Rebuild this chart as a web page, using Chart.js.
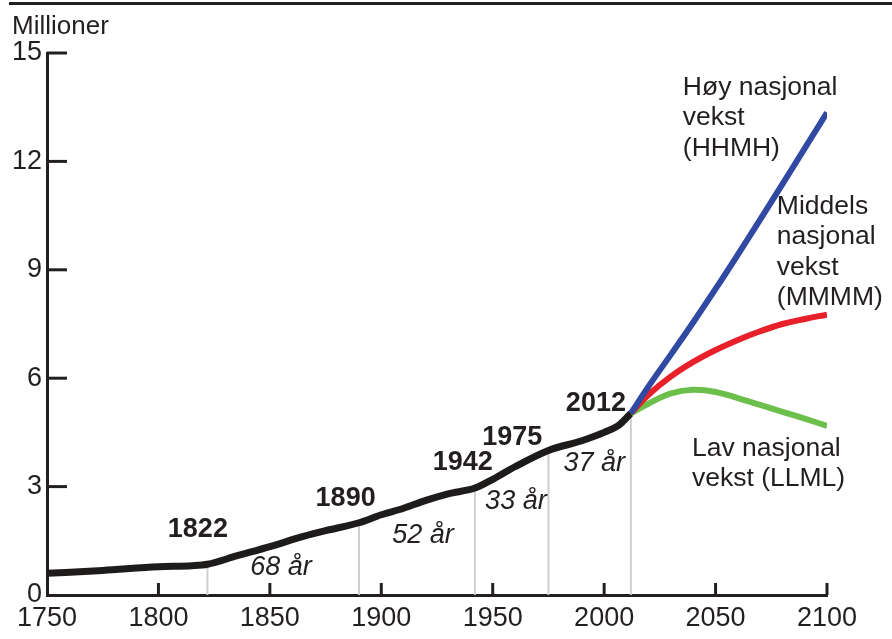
<!DOCTYPE html>
<html>
<head>
<meta charset="utf-8">
<script src="https://cdn.jsdelivr.net/npm/chart.js"></script>
<style>
  body { margin: 0; background: #fff; }
  canvas { display: block; }
</style>
</head>
<body>
<canvas id="myChart" width="892" height="639"></canvas>
<script>
// historical population (millions)
const histYears  = [1750, 1775, 1800, 1815, 1822, 1835, 1850, 1865, 1875, 1890, 1900, 1910, 1920, 1930, 1942, 1950, 1960, 1975, 1990, 2000, 2007, 2012];
const histValues = [0.60, 0.68, 0.78, 0.81, 0.85, 1.08, 1.34, 1.62, 1.78, 2.00, 2.22, 2.40, 2.62, 2.80, 2.96, 3.20, 3.55, 4.00, 4.27, 4.50, 4.72, 5.03];

// projections
const projYears  = [2012, 2020, 2030, 2040, 2050, 2060, 2070, 2080, 2090, 2100];
const highValues = [5.03, 5.78, 6.66, 7.55, 8.47, 9.42, 10.39, 11.37, 12.36, 13.35];
const midValues  = [5.03, 5.55, 6.05, 6.45, 6.78, 7.06, 7.30, 7.50, 7.64, 7.76];
const lowValues  = [5.03, 5.30, 5.58, 5.68, 5.62, 5.45, 5.26, 5.07, 4.88, 4.68];

// doubling markers
const markerYears  = [1822, 1890, 1942, 1975, 2012];
const markerValues = [0.85, 2.00, 2.96, 4.00, 5.03];
const gapLabels    = ['68 år', '52 år', '33 år', '37 år'];

const yTicks = [0, 3, 6, 9, 12, 15];
const xTicks = [1750, 1800, 1850, 1900, 1950, 2000, 2050, 2100];

const FONT = "'Liberation Sans', Arial, sans-serif";
const INK = '#231f20';

const pts = (xs, ys) => xs.map((x, i) => ({x: x, y: ys[i]}));

const markerLines = [];
markerYears.forEach((yr, i) => {
  markerLines.push({x: yr, y: 0}, {x: yr, y: markerValues[i]}, {x: yr, y: null});
});

// text notes anchored in data units
const notes = [
  {text: String(markerYears[0]), x: 1817.7, y: 1.80, style: 'bold'},
  {text: gapLabels[0], x: 1855, y: 0.75, style: 'italic'},
  {text: String(markerYears[1]), x: 1884, y: 2.66, style: 'bold'},
  {text: gapLabels[1], x: 1918.7, y: 1.66, style: 'italic'},
  {text: String(markerYears[2]), x: 1936.6, y: 3.66, style: 'bold'},
  {text: gapLabels[2], x: 1960.4, y: 2.58, style: 'italic'},
  {text: String(markerYears[3]), x: 1958.8, y: 4.36, style: 'bold'},
  {text: gapLabels[3], x: 1995.6, y: 3.63, style: 'italic'},
  {text: String(markerYears[4]), x: 1996.3, y: 5.30, style: 'bold'},
];
const blocks = [
  {lines: ['Høy nasjonal', 'vekst', '(HHMH)'], x: 2035.3, y: 14.05},
  {lines: ['Middels', 'nasjonal', 'vekst', '(MMMM)'], x: 2077.5, y: 10.76},
  {lines: ['Lav nasjonal', 'vekst (LLML)'], x: 2039.4, y: 4.05},
];

const decor = {
  id: 'decor',
  beforeDraw(chart) {
    const ctx = chart.ctx;
    ctx.save();
    ctx.fillStyle = '#fff';
    ctx.fillRect(0, 0, chart.width, chart.height);
    ctx.fillStyle = INK;
    ctx.fillRect(9, 2, chart.width - 9, 3);
    ctx.font = '26px ' + FONT;
    ctx.textBaseline = 'middle';
    ctx.textAlign = 'left';
    ctx.fillText('Millioner', 12, 27);
    ctx.restore();
  },
  afterDraw(chart) {
    const ctx = chart.ctx;
    const x = chart.scales.x, y = chart.scales.y;
    ctx.save();
    ctx.fillStyle = INK;
    yTicks.slice(1).forEach(v => {
      const py = y.getPixelForValue(v);
      ctx.fillRect(x.left, py - 1.5, 20, 3);
    });
    xTicks.slice(1).forEach(v => {
      const px = x.getPixelForValue(v);
      ctx.fillRect(px - 1.5, y.bottom - 12, 3, 12);
    });
    ctx.textBaseline = 'middle';
    ctx.textAlign = 'center';
    notes.forEach(n => {
      ctx.font = n.style + ' 27px ' + FONT;
      ctx.fillText(n.text, x.getPixelForValue(n.x), y.getPixelForValue(n.y));
    });
    ctx.textAlign = 'left';
    ctx.font = '26.5px ' + FONT;
    blocks.forEach(b => {
      const px = x.getPixelForValue(b.x), py = y.getPixelForValue(b.y);
      b.lines.forEach((t, i) => ctx.fillText(t, px, py + i * 30.5));
    });
    ctx.restore();
  }
};

new Chart(document.getElementById('myChart'), {
  type: 'line',
  data: {
    datasets: [
      {data: markerLines, borderColor: '#cfcfcf', borderWidth: 2, pointRadius: 0, spanGaps: false, order: 6},
      {data: pts(histYears, histValues), borderColor: '#1e1b1b', borderWidth: 7, pointRadius: 0, cubicInterpolationMode: 'monotone', order: 5},
      {data: pts(projYears, lowValues), borderColor: '#6cbf4a', borderWidth: 6, pointRadius: 0, tension: 0.4, order: 4},
      {data: pts(projYears, midValues), borderColor: '#e8202a', borderWidth: 6, pointRadius: 0, tension: 0.4, order: 3},
      {data: pts(projYears, highValues), borderColor: '#3049a3', borderWidth: 6, pointRadius: 0, tension: 0.4, order: 2},
    ]
  },
  options: {
    responsive: false,
    animation: false,
    devicePixelRatio: 1,
    layout: {padding: {top: 53, right: 65, left: 0, bottom: 0}},
    plugins: {legend: {display: false}, tooltip: {enabled: false}},
    scales: {
      x: {
        type: 'linear', min: 1750, max: 2100,
        afterFit: s => { s.height = 44; },
        afterBuildTicks: s => { s.ticks = xTicks.map(v => ({value: v})); },
        grid: {display: false, drawTicks: false},
        border: {display: true, color: INK, width: 3},
        ticks: {color: INK, padding: 7, maxRotation: 0, font: {family: FONT, size: 27}, callback: v => String(v)}
      },
      y: {
        min: 0, max: 15,
        afterFit: s => { s.width = 47; },
        afterBuildTicks: s => { s.ticks = yTicks.map(v => ({value: v})); },
        grid: {display: false, drawTicks: false},
        border: {display: true, color: INK, width: 3},
        ticks: {color: INK, padding: 5, font: {family: FONT, size: 27}, callback: v => String(v)}
      }
    }
  },
  plugins: [decor]
});
</script>
</body>
</html>
